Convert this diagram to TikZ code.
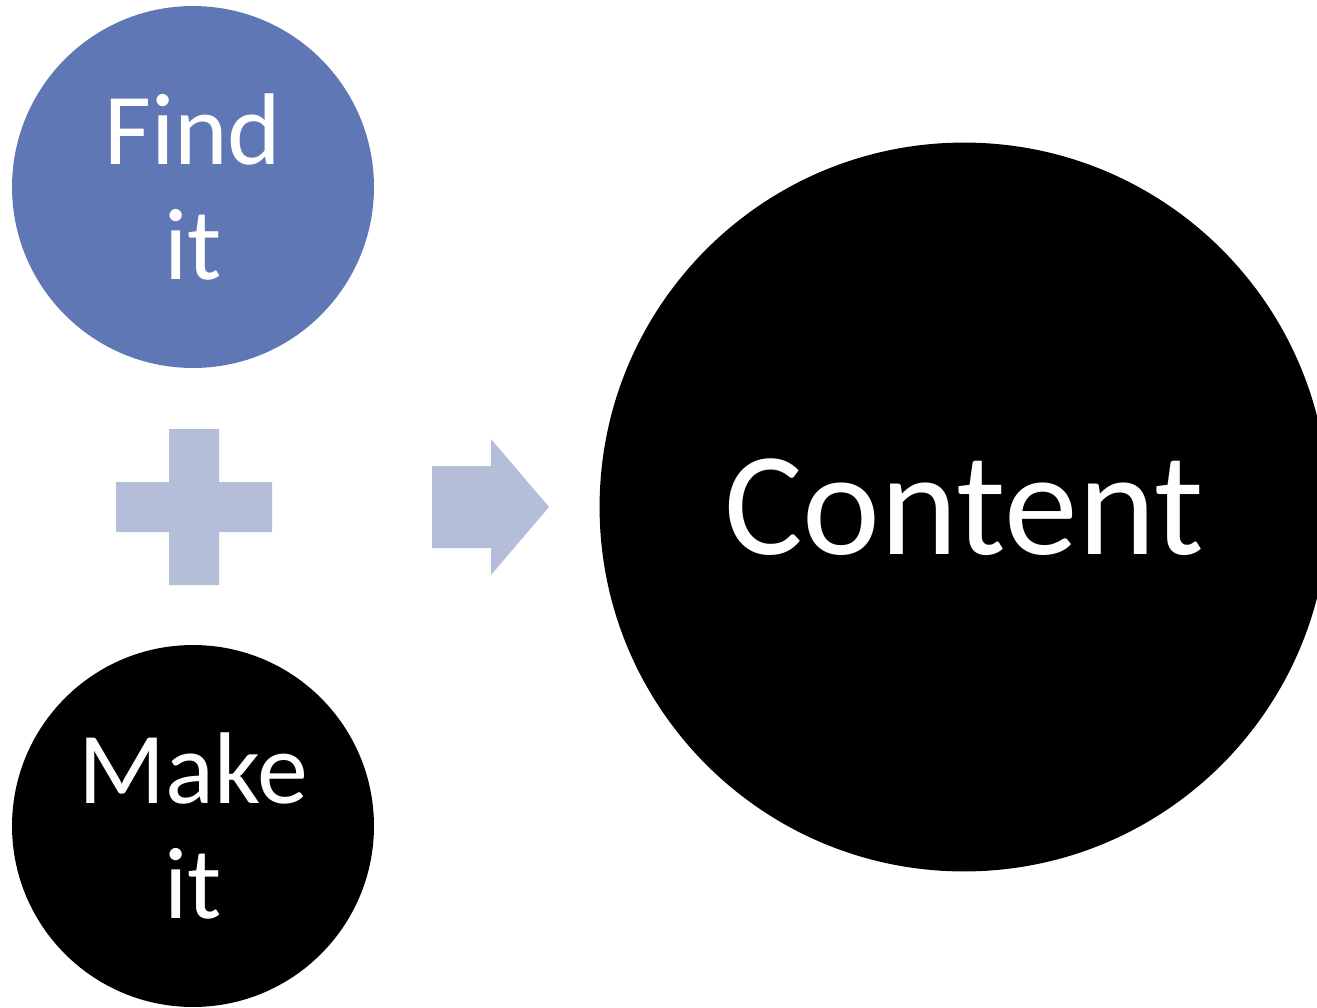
\documentclass[tikz,border=0pt]{standalone}
\usepackage{fontspec}
\newfontfamily\carlito{Carlito}
\definecolor{findblue}{HTML}{6077B5}
\definecolor{signblue}{HTML}{B5BED9}
\begin{document}
\begin{tikzpicture}[
    x=0.02cm, y=-0.02cm,
    small circle/.style={circle, minimum size=7.24cm, inner sep=0pt, text=white, align=center,
        font=\carlito\fontsize{58}{65}\selectfont},
    big circle/.style={circle, minimum size=14.58cm, inner sep=0pt, text=white,
        font=\carlito\fontsize{84}{100}\selectfont},
    sign/.style={fill=signblue}
]
    \useasboundingbox (0,0) rectangle (1317,1007);

    \node[small circle, fill=findblue] (find) at (193,187) {Find\\it};
    \node[small circle, fill=black] (make) at (193,826) {Make\\it};
    \node[big circle, fill=black] (content) at (964,507) {Content};

    % plus and arrow signs
    \fill[sign] (116,482) rectangle (272,532) (169,429) rectangle (219,585);
    \fill[sign] (432,466) -- (491,466) -- (491,439) -- (549,507) -- (491,575) -- (491,548) -- (432,548) -- cycle;
\end{tikzpicture}
\end{document}
